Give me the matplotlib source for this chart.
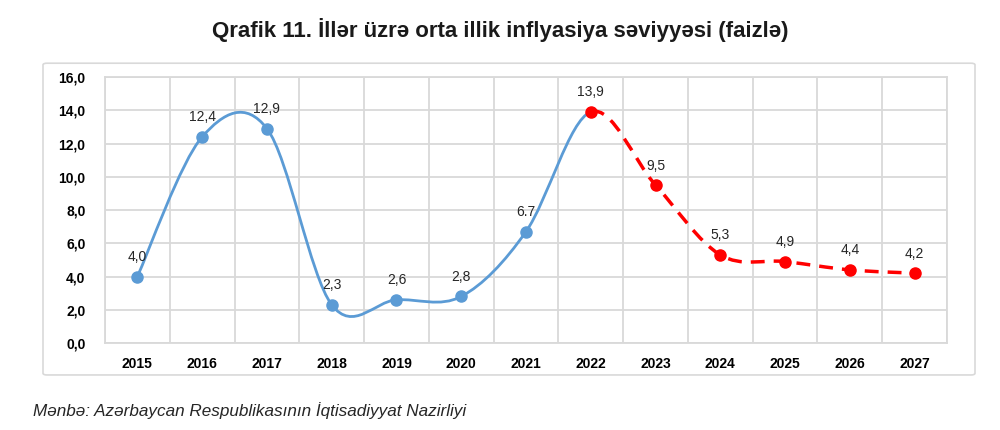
import matplotlib
matplotlib.use('Agg')
from matplotlib import pyplot as plt
from matplotlib.path import Path
from matplotlib.patches import PathPatch, FancyBboxPatch
import numpy as np

plt.rcParams['font.family'] = ['Liberation Sans', 'DejaVu Sans']

# data
years = ['2015', '2016', '2017', '2018', '2019', '2020', '2021',
         '2022', '2023', '2024', '2025', '2026', '2027']
actual = [4.0, 12.4, 12.9, 2.3, 2.6, 2.8, 6.7, 13.9]
forecast = [13.9, 9.5, 5.3, 4.9, 4.4, 4.2]
actual_labels = ['4,0', '12,4', '12,9', '2,3', '2,6', '2,8', '6.7', '13,9']
forecast_labels = ['9,5', '5,3', '4,9', '4,4', '4,2']
yticks = [0, 2, 4, 6, 8, 10, 12, 14, 16]

blue = '#5B9BD5'
red = '#FF0000'
grid_col = '#D9D9D9'


def smooth_path(xs, ys, start, stop):
    """
    excel-like smoothed line: cubic bezier between each pair of points,
    control points taken from the neighbours (catmull-rom).
    only segments start..stop are returned, neighbours outside are still used
    """
    pts = np.column_stack([xs, ys]).astype(float)
    n = len(pts)
    verts = [pts[start]]
    codes = [Path.MOVETO]
    for i in range(start, stop):
        p0 = pts[max(i - 1, 0)]
        p1 = pts[i]
        p2 = pts[i + 1]
        p3 = pts[min(i + 2, n - 1)]
        c1 = p1 + (p2 - p0) / 6.0
        c2 = p2 - (p3 - p1) / 6.0
        verts += [c1, c2, p2]
        codes += [Path.CURVE4] * 3
    return Path(verts, codes)


fig = plt.figure(figsize=(10, 4.3), dpi=100)

# outer chart frame
frame = FancyBboxPatch((0.043, 0.128), 0.932, 0.725,
                       boxstyle='round,pad=0,rounding_size=0.004',
                       transform=fig.transFigure, facecolor='white',
                       edgecolor='#D9D9D9', linewidth=1.2, zorder=-10)
fig.patches.append(frame)

ax = fig.add_axes([0.105, 0.2023, 0.842, 0.6186])
ax.set_facecolor('none')

x_all = np.arange(len(years))
y_all = actual + forecast[1:]
n_act = len(actual)
x_act = x_all[:n_act]
x_fc = x_all[n_act - 1:]

ax.add_patch(PathPatch(smooth_path(x_all, y_all, 0, n_act - 1), fill=False,
                       edgecolor=blue, linewidth=2, zorder=3,
                       capstyle='round'))
ax.add_patch(PathPatch(smooth_path(x_all, y_all, n_act - 1, len(years) - 1),
                       fill=False, edgecolor=red, linewidth=2.5, zorder=3,
                       linestyle=(0, (4, 2.6))))

ax.plot(x_act[:-1], actual[:-1], 'o', color=blue, markersize=8, zorder=4)
ax.plot(x_fc, forecast, 'o', color=red, markersize=8, zorder=5)

for x, y, t in zip(x_act, actual, actual_labels):
    ax.annotate(t, (x, y), xytext=(0, 9), textcoords='offset points',
                ha='center', va='bottom', fontsize=10, color='#262626')
for x, y, t in zip(x_fc[1:], forecast[1:], forecast_labels):
    ax.annotate(t, (x, y), xytext=(0, 9), textcoords='offset points',
                ha='center', va='bottom', fontsize=10, color='#262626')

ax.set_xlim(-0.5, len(years) - 0.5)
ax.set_ylim(0, 16)
ax.set_xticks(x_all)
ax.set_xticklabels(years, fontweight='bold', fontsize=10)
ax.set_yticks(yticks)
ax.set_yticklabels([('%.1f' % v).replace('.', ',') for v in yticks],
                   fontweight='bold', fontsize=10)
ax.tick_params(axis='both', length=0)
ax.tick_params(axis='y', pad=14)
ax.tick_params(axis='x', pad=10)

# vertical grid between categories
ax.set_xticks(np.arange(len(years) + 1) - 0.5, minor=True)
ax.tick_params(which='minor', length=0)
ax.grid(True, which='minor', axis='x', color=grid_col, linewidth=1.3)
ax.grid(True, which='major', axis='y', color=grid_col, linewidth=1.3)
ax.set_axisbelow(True)
for s in ax.spines.values():
    s.set_color(grid_col)
    s.set_linewidth(1.3)

fig.text(0.5, 0.93, 'Qrafik 11. İllər üzrə orta illik inflyasiya səviyyəsi (faizlə)',
         ha='center', va='center', fontsize=16, fontweight='bold', color='#1a1a1a')
fig.text(0.033, 0.046, 'Mənbə: Azərbaycan Respublikasının İqtisadiyyat Nazirliyi',
         ha='left', va='center', fontsize=12.3, style='italic', color='#262626')

fig.savefig('out.png', dpi=100)
